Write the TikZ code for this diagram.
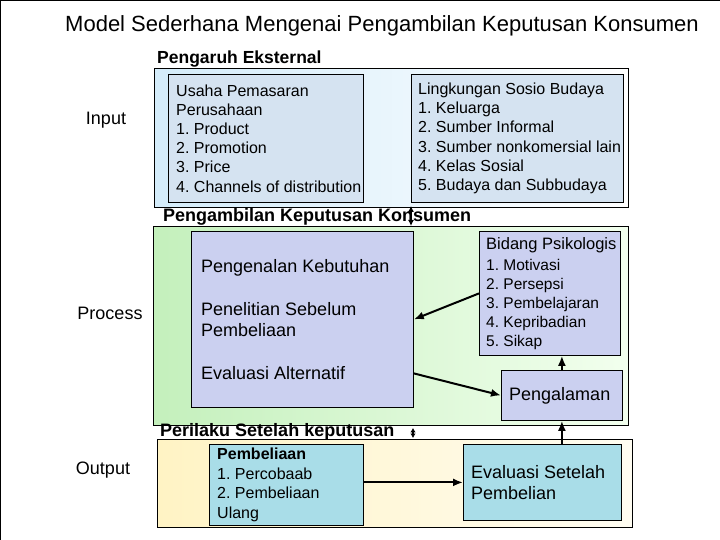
\documentclass[tikz,border=0pt]{standalone}
\usepackage{fontspec}
\setmainfont{Liberation Sans}
\usetikzlibrary{arrows.meta,calc}
\definecolor{inpin}{HTML}{D5E3F1}
\definecolor{inpout}{HTML}{D4ECFA}
\definecolor{procin}{HTML}{CBD0F0}
\definecolor{procoutL}{HTML}{C4F0BC}
\definecolor{procoutR}{HTML}{F2FFEE}
\definecolor{outoutL}{HTML}{FFF3C4}
\definecolor{outoutR}{HTML}{FFFDF2}
\definecolor{outin}{HTML}{A9DDE8}
\begin{document}
\frenchspacing
\begin{tikzpicture}[x=1pt,y=-1pt,
  box/.style={draw=black, line width=0.8pt, anchor=north west, inner sep=0pt},
  frame/.style={draw=black, line width=0.9pt, anchor=north west, inner sep=0pt},
  txt/.style={anchor=west, inner sep=0pt, align=left},
  lbl/.style={font=\fontsize{18}{21}\selectfont},
  sect/.style={anchor=base west, inner sep=0pt, font=\bfseries\fontsize{18}{21}\selectfont},
  arr/.style={line width=2pt, -{Latex[length=10pt,width=8pt]}},
  darr/.style={line width=1.5pt, {Latex[length=6pt,width=6pt]}-{Latex[length=6pt,width=6pt]}},
  sdarr/.style={line width=1.2pt, {Latex[length=4.5pt,width=5.5pt]}-{Latex[length=4.5pt,width=5.5pt]}}
]
\useasboundingbox (0,0) rectangle (720,540);
\fill[white] (0,0) rectangle (720,540);
\draw[line width=2pt] (0,540) -- (0,0) -- (720,0);

\node[inner sep=0pt, font=\fontsize{22}{26}\selectfont] (title) at (382,26) {Model Sederhana Mengenai Pengambilan Keputusan Konsumen};

% Input
\node[frame, minimum width=474pt, minimum height=139pt, left color=inpout, right color=white] (inp) at (154,68) {};
\node[sect, font=\bfseries\fontsize{17.5}{21}\selectfont] (pe) at (157,64) {Pengaruh Eksternal};
\node[box, fill=inpin, minimum width=195pt, minimum height=128pt] (usaha) at (168,74) {};
\node[txt, font=\fontsize{16}{19.2}\selectfont] (usahaT) at ([xshift=8pt]usaha.west)
  {Usaha Pemasaran\\Perusahaan\\1. Product\\2. Promotion\\3. Price\\4. Channels of distribution};
\node[box, fill=inpin, minimum width=212pt, minimum height=128pt] (sosio) at (411,74) {};
\node[txt, font=\fontsize{16}{19.2}\selectfont] (sosioT) at ([xshift=7pt]sosio.west)
  {Lingkungan Sosio Budaya\\1. Keluarga\\2. Sumber Informal\\3. Sumber nonkomersial lain\\4. Kelas Sosial\\5. Budaya dan Subbudaya};
\node[lbl] (linput) at (106,120) {Input};

% Process
\node[frame, minimum width=475pt, minimum height=199pt, left color=procoutL, right color=procoutR] (proc) at (153,226) {};
\node[sect] (pk) at (163,222) {Pengambilan Keputusan Konsumen};
\node[box, fill=procin, minimum width=222pt, minimum height=176pt] (big) at (191,231) {};
\node[txt, font=\fontsize{18}{21.3}\selectfont] (bigT) at ([xshift=10pt]big.west)
  {Pengenalan Kebutuhan\\[21.3pt]Penelitian Sebelum\\Pembeliaan\\[21.3pt]Evaluasi Alternatif};
\node[box, fill=procin, minimum width=141pt, minimum height=124pt] (bid) at (479,231) {};
\node[txt, font=\fontsize{15.5}{19}\selectfont] (bidT) at ([xshift=7pt]bid.west)
  {{\fontsize{16.5}{19}\selectfont Bidang Psikologis}\\[2pt]1. Motivasi\\2. Persepsi\\3. Pembelajaran\\4. Kepribadian\\5. Sikap};
\node[box, fill=procin, minimum width=121pt, minimum height=50pt] (peng) at (501,370) {};
\node[txt, font=\fontsize{18}{21}\selectfont] (pengT) at ([xshift=8pt]peng.west) {Pengalaman};
\node[lbl] (lproc) at (110,313) {Process};

% Output
\node[frame, minimum width=475pt, minimum height=88pt, left color=outoutL, right color=outoutR] (out) at (157,439) {};
\node[sect] (ps) at (160,436) {Perilaku Setelah keputusan};
\node[box, fill=outin, minimum width=154pt, minimum height=81pt] (beli) at (209,444) {};
\node[txt, font=\fontsize{16}{19.8}\selectfont] (beliT) at ([xshift=8pt]beli.west)
  {\textbf{Pembeliaan}\\1. Percobaab\\2. Pembeliaan\\Ulang};
\node[box, fill=outin, minimum width=158pt, minimum height=76pt] (eval) at (463,444) {};
\node[txt, font=\fontsize{18}{21}\selectfont] (evalT) at ([xshift=8pt]eval.west)
  {Evaluasi Setelah\\Pembelian};
\node[lbl] (lout) at (103,470) {Output};

% connectors
\draw[arr] (bid.west) -- (big.east);
\draw[arr] ([yshift=-54pt]big.east) -- (peng.west);
\draw[arr] (peng.north) -- (peng.north |- bid.south);
\draw[arr] (peng.south |- eval.north) -- (peng.south);
\draw[arr] (beli.east |- eval.west) -- (eval.west);
\coordinate (x1) at (411,0);
\coordinate (x2) at (413,0);
\draw[darr] ([yshift=2pt]inp.south -| x1) -- (proc.north -| x1);
\draw[sdarr] ([yshift=-2pt]proc.south -| x2) -- ([yshift=1pt]out.north -| x2);
\end{tikzpicture}
\end{document}
